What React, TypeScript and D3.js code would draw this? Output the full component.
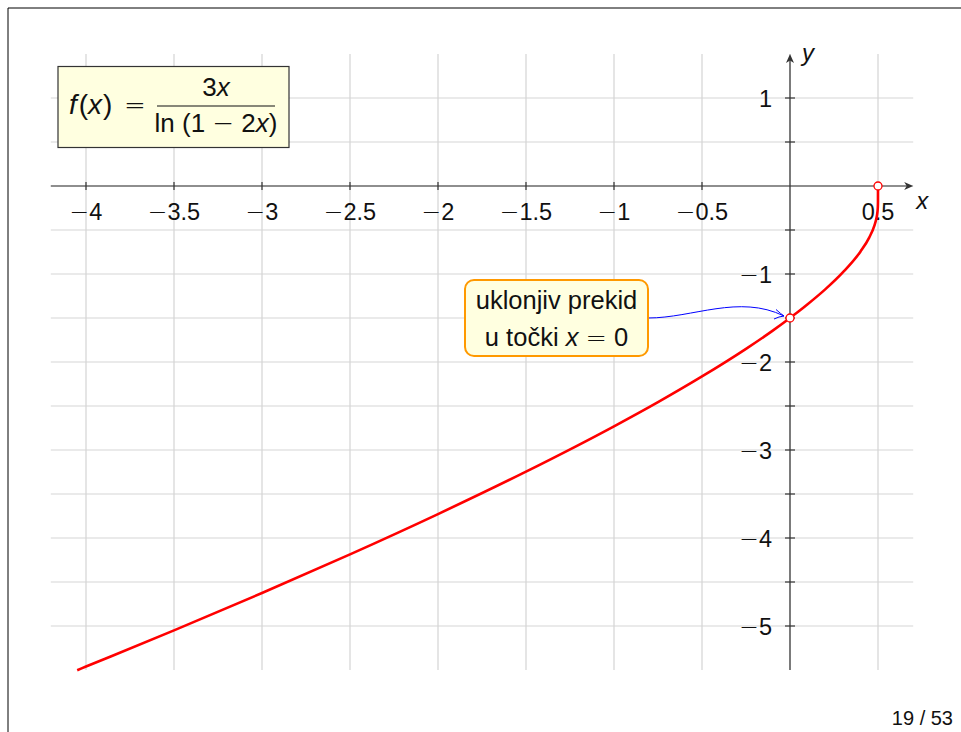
import React from "react";
import * as d3 from "d3";

// Sampled values of f(x) = 3x / ln(1 - 2x)
const curveX = [-4.05, -4, -3.5, -3, -2.5, -2, -1.5, -1, -0.75, -0.5, -0.25, -0.1, 0, 0.05, 0.1, 0.2, 0.3, 0.4, 0.45, 0.48, 0.49, 0.495, 0.499, 0.4999, 0.5];
const curveY = [-5.502, -5.461, -5.05, -4.625, -4.186, -3.728, -3.246, -2.731, -2.456, -2.164, -1.85, -1.646, -1.5, -1.424, -1.344, -1.175, -0.982, -0.746, -0.586, -0.447, -0.376, -0.323, -0.241, -0.176, 0];

// Open points (removable discontinuity and the endpoint)
const holeX = [0, 0.5];
const holeY = [-1.5, 0];

const xTicks = [-4, -3.5, -3, -2.5, -2, -1.5, -1, -0.5, 0.5];
const xTickLabels = ["−4", "−3.5", "−3", "−2.5", "−2", "−1.5", "−1", "−0.5", "0.5"];
const yTicks = [1, -1, -2, -3, -4, -5];
const yTickLabels = ["1", "−1", "−2", "−3", "−4", "−5"];
const yMinorTicks = [1, 0.5, -0.5, -1, -1.5, -2, -2.5, -3, -3.5, -4, -4.5, -5];
const xGrid = [-4, -3.5, -3, -2.5, -2, -1.5, -1, -0.5, 0, 0.5];
const yGrid = [1, 0.5, 0, -0.5, -1, -1.5, -2, -2.5, -3, -3.5, -4, -4.5, -5];

const FONT = "'Liberation Sans', Arial, sans-serif";
const SYM = "'DejaVu Sans', sans-serif";

// renders a number label with a long, thin math minus sign
function NumLabel({ s }: { s: string }) {
  if (s.startsWith("−")) {
    return (
      <>
        <tspan fontFamily={SYM} fontWeight={300}>−</tspan>
        <tspan>{s.slice(1)}</tspan>
      </>
    );
  }
  return <tspan>{s}</tspan>;
}

export default function App() {
  const x = d3.scaleLinear().domain([-4.2, 0.7]).range([50.8, 913.2]);
  const y = d3.scaleLinear().domain([-5.5, 1.5]).range([670, 54]);

  const pts: [number, number][] = curveX.map((v, i) => [v, curveY[i]]);
  const line = d3
    .line<[number, number]>()
    .x((d) => x(d[0]))
    .y((d) => y(d[1]))
    .curve(d3.curveMonotoneX);

  const x0 = x(0);
  const y0 = y(0);
  const axisColor = "#333";
  const ink = "#111";

  // stealth-like arrow heads for the axes
  const head = (tx: number, ty: number, dir: "right" | "up") =>
    dir === "right"
      ? `M${tx},${ty} L${tx - 9},${ty - 4} L${tx - 6.5},${ty} L${tx - 9},${ty + 4} Z`
      : `M${tx},${ty} L${tx - 4},${ty + 9} L${tx},${ty + 6.5} L${tx + 4},${ty + 9} Z`;

  const hole = { x: x(0), y: y(-1.5) };
  const boxL = 465, boxR = 648, boxT = 280, boxB = 356;
  const arrowStart = { x: boxR, y: (boxT + boxB) / 2 };
  const arrowEnd = { x: hole.x - 6, y: hole.y - 2 };

  return (
    <svg
      width={961}
      height={732}
      style={{ position: "absolute", left: 0, top: 0, background: "#fff" }}
      fontFamily={FONT}
    >
      {/* frame */}
      <line x1={8} y1={8} x2={961} y2={8} stroke="#000" strokeWidth={1} />
      <line x1={8} y1={8} x2={8} y2={732} stroke="#000" strokeWidth={1} />

      {/* grid */}
      {xGrid.map((v) => (
        <line key={"gx" + v} x1={x(v)} x2={x(v)} y1={y(1.5)} y2={y(-5.5)} stroke="#cbcbcb" strokeWidth={1} />
      ))}
      {yGrid.map((v) => (
        <line key={"gy" + v} x1={x(-4.2)} x2={x(0.7)} y1={y(v)} y2={y(v)} stroke="#d6d6d6" strokeWidth={1.2} />
      ))}

      {/* axes */}
      <line x1={x(-4.2)} x2={x(0.7) - 4} y1={y0} y2={y0} stroke={axisColor} strokeWidth={1.2} />
      <path d={head(x(0.7), y0, "right")} fill={axisColor} />
      <line x1={x0} x2={x0} y1={y(-5.5)} y2={y(1.5) + 4} stroke={axisColor} strokeWidth={1.2} />
      <path d={head(x0, y(1.5), "up")} fill={axisColor} />

      {/* ticks */}
      {xTicks.map((v) => (
        <line key={"tx" + v} x1={x(v)} x2={x(v)} y1={y0 - 4} y2={y0 + 4} stroke={axisColor} strokeWidth={1.2} />
      ))}
      {yMinorTicks.map((v) => (
        <line key={"ty" + v} x1={x0 - 5} x2={x0 + 5} y1={y(v)} y2={y(v)} stroke={axisColor} strokeWidth={1.2} />
      ))}

      {/* tick labels */}
      {xTicks.map((v, i) => (
        <text key={"lx" + v} x={x(v)} y={y0 + 34} textAnchor="middle" fontSize={23.5} fill={ink}>
          <NumLabel s={xTickLabels[i]} />
        </text>
      ))}
      {yTicks.map((v, i) => (
        <text key={"ly" + v} x={x0 - 18} y={y(v) + 8.5} textAnchor="end" fontSize={23.5} fill={ink}>
          <NumLabel s={yTickLabels[i]} />
        </text>
      ))}

      {/* axis labels */}
      <text x={x(0.7) + 3} y={y0 + 23} fontSize={24} fontStyle="italic" fill={ink}>x</text>
      <text x={x0 + 12} y={y(1.5) + 7} fontSize={24} fontStyle="italic" fill={ink}>y</text>

      {/* function graph */}
      <path d={line(pts) || ""} fill="none" stroke="#ff0000" strokeWidth={2.6} strokeLinejoin="round" />

      {/* open points */}
      {holeX.map((v, i) => (
        <circle key={"h" + i} cx={x(v)} cy={y(holeY[i])} r={4} fill="#fff" stroke="#ff0000" strokeWidth={1.3} />
      ))}

      {/* formula box */}
      <rect x={58} y={66.5} width={231} height={81} fill="#ffffe0" stroke="#333" strokeWidth={1.2} />
      <text x={69} y={114} fontSize={28} fill={ink}>
        <tspan fontStyle="italic">f</tspan>
        <tspan dx={2}>(</tspan>
        <tspan fontStyle="italic">x</tspan>
        <tspan dx={1}>)</tspan>
      </text>
      <text x={124} y={114} fontSize={26} fill={ink} fontFamily={SYM} fontWeight={300}>=</text>
      <line x1={157} x2={275} y1={106} y2={106} stroke={ink} strokeWidth={1.1} />
      <text x={216} y={96} fontSize={26} textAnchor="middle" fill={ink}>
        <tspan>3</tspan>
        <tspan fontStyle="italic">x</tspan>
      </text>
      <text x={216} y={132} fontSize={26} textAnchor="middle" fill={ink}>
        <tspan>ln (1 </tspan>
        <tspan fontFamily={SYM} fontWeight={300}>−</tspan>
        <tspan> 2</tspan>
        <tspan fontStyle="italic">x</tspan>
        <tspan>)</tspan>
      </text>

      {/* annotation */}
      <path
        d={`M${arrowStart.x},${arrowStart.y} C${arrowStart.x + 45},${arrowStart.y} ${arrowEnd.x - 45},${arrowEnd.y - 22} ${arrowEnd.x},${arrowEnd.y}`}
        fill="none"
        stroke="#0000ff"
        strokeWidth={1}
      />
      <path
        d={`M${arrowEnd.x - 8},${arrowEnd.y - 6.5} Q${arrowEnd.x - 3},${arrowEnd.y - 2} ${arrowEnd.x},${arrowEnd.y} Q${arrowEnd.x - 5},${arrowEnd.y + 0.5} ${arrowEnd.x - 10},${arrowEnd.y + 3}`}
        fill="none"
        stroke="#0000ff"
        strokeWidth={1}
      />
      <rect x={boxL} y={boxT} width={boxR - boxL} height={boxB - boxT} rx={9} ry={9} fill="#ffffe0" stroke="#ff9900" strokeWidth={2} />
      <text x={(boxL + boxR) / 2} y={309} fontSize={25.5} textAnchor="middle" fill={ink}>
        uklonjiv prekid
      </text>
      <text x={(boxL + boxR) / 2} y={346} fontSize={25.5} textAnchor="middle" fill={ink}>
        <tspan>u točki </tspan>
        <tspan fontStyle="italic">x</tspan>
        <tspan> </tspan>
        <tspan fontFamily={SYM} fontWeight={300}>=</tspan>
        <tspan> 0</tspan>
      </text>

      {/* page number */}
      <text x={953} y={725} fontSize={20} textAnchor="end" fill={ink}>19 / 53</text>
    </svg>
  );
}
